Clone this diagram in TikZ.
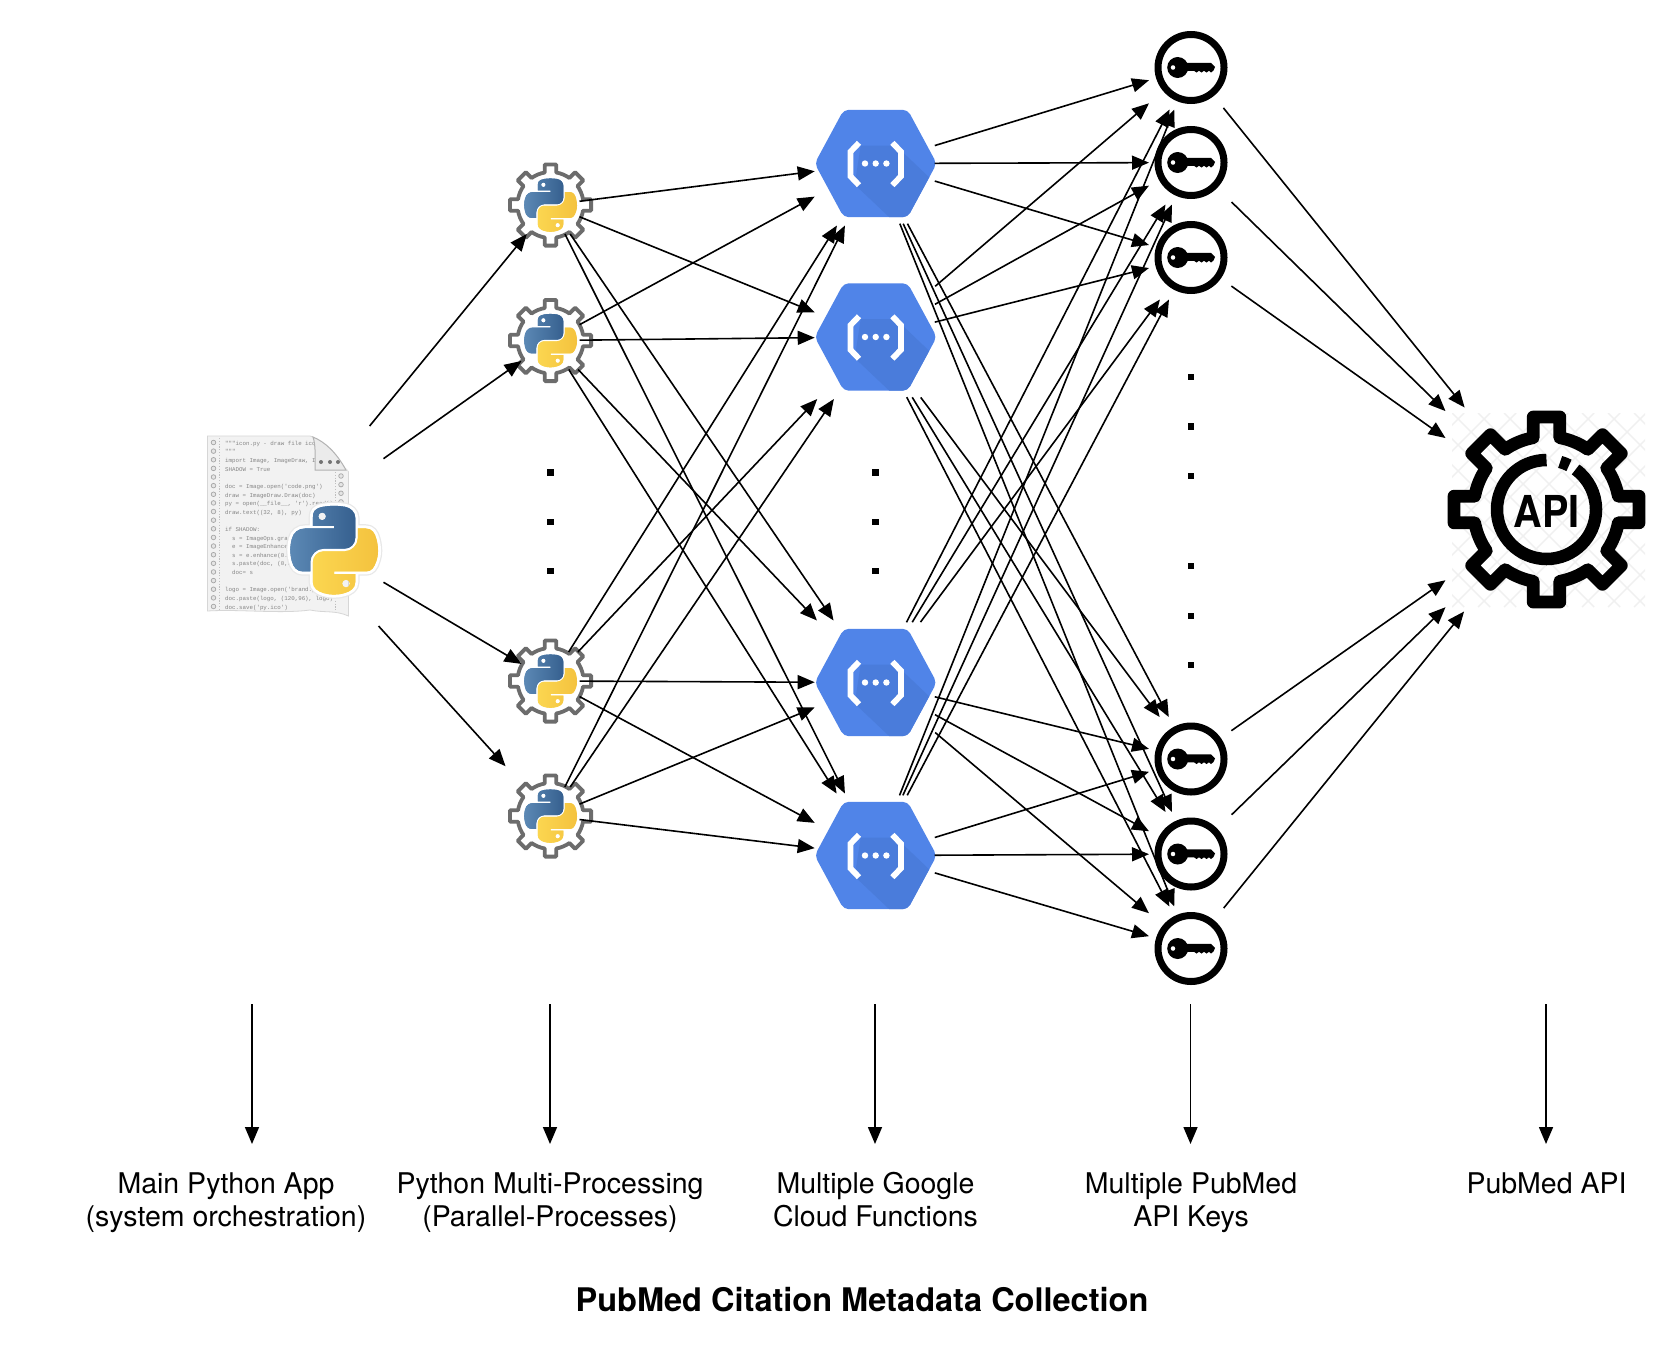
\documentclass[tikz,border=0pt]{standalone}
\usepackage{fontspec}
\usepackage{graphicx}
\setmainfont{TeX Gyre Heros}
\setmonofont{Liberation Mono}
\usetikzlibrary{arrows.meta}
\definecolor{pyblue}{HTML}{3F74A8}
\definecolor{pybluedk}{HTML}{36608F}
\definecolor{pyyellow}{HTML}{FBD650}
\definecolor{pyyellowdk}{HTML}{F4C23E}
\definecolor{gcp}{HTML}{5084E8}
\definecolor{gcpdk}{HTML}{4A7CDB}
\definecolor{geargray}{HTML}{6C6C6C}
\tikzset{
  arr/.style={line width=1.6pt,-{Triangle[length=17pt,width=14pt]}},
  bound/.style={rectangle,inner sep=0pt,outer sep=0pt,minimum width=#1},
  procbox/.style={bound=58pt,minimum height=58pt},
  funcbox/.style={bound=122pt,minimum height=124pt},
  keybox/.style={bound=84pt,minimum height=84pt},
  lbl/.style={font=\fontsize{28.5}{33}\selectfont,align=center,anchor=center,inner sep=0pt},
}
% gear outline: r-out, r-in, half-angle out, half-angle in, draw options
\newcommand\geardraw[5]{%
  \draw[#5] (-#4:#2) \foreach \a in {0,45,...,315}{
    -- (\a-#4:#2) -- (\a-#3:#1) -- (\a+#3:#1) -- (\a+#4:#2)
    arc[start angle=\a+#4,end angle=\a+45-#4,radius=#2]} -- cycle;}
% python logo: svg outline, centred
\newcommand\pyblueoutline{(54.92,0) .. controls (50.34,.02) and (45.96,.41) .. (42.11,1.09) .. controls (30.76,3.10) and (28.70,7.29) .. (28.70,15.03) -- (28.70,25.25) -- (55.51,25.25) -- (55.51,28.66) -- (18.64,28.66) .. controls (10.85,28.66) and (4.02,33.34) .. (1.89,42.25) .. controls (-.57,52.46) and (-.68,58.84) .. (1.89,69.50) .. controls (3.80,77.44) and (8.35,83.09) .. (16.14,83.09) -- (25.36,83.09) -- (25.36,70.84) .. controls (25.36,61.99) and (33.02,54.18) .. (42.11,54.18) -- (68.89,54.18) .. controls (76.34,54.18) and (82.30,48.04) .. (82.30,40.55) -- (82.30,15.02) .. controls (82.30,7.75) and (76.17,2.30) .. (68.89,1.08) .. controls (64.28,.33) and (59.50,-.02) .. (54.92,0) -- cycle}
\newcommand\pyyellowoutline{(85.64,28.66) -- (85.64,40.57) .. controls (85.64,49.80) and (77.81,57.57) .. (68.89,57.57) -- (42.11,57.57) .. controls (34.77,57.57) and (28.70,63.85) .. (28.70,71.20) -- (28.70,96.73) .. controls (28.70,104.00) and (35.02,108.27) .. (42.11,110.36) .. controls (50.60,112.86) and (58.74,113.31) .. (68.89,110.36) .. controls (75.64,108.41) and (82.30,104.47) .. (82.30,96.73) -- (82.30,86.50) -- (55.52,86.50) -- (55.52,83.09) -- (95.71,83.09) .. controls (103.50,83.09) and (106.41,77.65) .. (109.12,69.50) .. controls (111.92,61.10) and (111.86,53.02) .. (109.12,42.25) .. controls (107.19,34.49) and (103.52,28.66) .. (95.71,28.66) -- cycle}
\newcommand\pylogo[4]{% x, y, unit, halo width
  \begin{scope}[shift={(#1,#2)},x=#3,y=-#3,shift={(-55.4,-55.9)}]
    \ifdim#4>0pt
      \draw[line width=#4+2.5pt,color=black!9,line join=round] \pyblueoutline;
      \draw[line width=#4+2.5pt,color=black!9,line join=round] \pyyellowoutline;
      \draw[line width=#4,color=white,line join=round] \pyblueoutline;
      \draw[line width=#4,color=white,line join=round] \pyyellowoutline;
    \fi
    \fill[pyblue,even odd rule,left color=pyblue!85!white,right color=pybluedk] \pyblueoutline (45.45,13.34) arc[start angle=0,end angle=360,radius=5.03];
    \fill[pyyellow,even odd rule,left color=pyyellow,right color=pyyellowdk] \pyyellowoutline (75.61,98.41) arc[start angle=0,end angle=360,radius=5.03];
  \end{scope}}
\newcommand\procicon[2]{%
  \begin{scope}[shift={(#1,#2)}]
    \geardraw{41}{33}{8}{10}{draw=geargray,line width=3.8pt,line join=round,fill=white}
  \end{scope}
  \pylogo{#1}{#2}{0.475pt}{0pt}}
\newcommand\funcicon[2]{%
  \begin{scope}[shift={(#1,#2)}]
    \begin{scope}
      \clip[rounded corners=5pt] (-61,0) -- (-32,53.7) -- (32,53.7) -- (61,0) -- (32,-53.7) -- (-32,-53.7) -- cycle;
      \fill[gcp] (-62,-56) rectangle (62,56);
      \fill[gcpdk] (-15,18) -- (20,18) -- (62,-22) -- (62,-56) -- (16,-56) -- (-21,-21) -- cycle;
    \end{scope}
    \draw[white,line width=5.8pt] (-16.7,20.7) -- (-25.3,11.7) -- (-25.3,-12.7) -- (-16.7,-21.7);
    \draw[white,line width=5.8pt] (16.7,20.7) -- (25.3,11.7) -- (25.3,-12.7) -- (16.7,-21.7);
    \foreach \dx in {-10.7,0,10.7} \fill[white] (\dx,0) circle[radius=3.2];
  \end{scope}}
\newcommand\keyicon[2]{%
  \begin{scope}[shift={(#1,#2)}]
    \draw[black,line width=7pt] (0,0) circle[radius=33];
    \fill[black,even odd rule] (-13.3,0) circle[radius=10.5] (-18,0) circle[radius=2.4];
    \fill[black] (-7,4.7) -- (20,4.7) -- (24,0.5) -- (22.5,-3) -- (20,-5) -- (18,-3.3) -- (15.5,-5) -- (13,-3.3) -- (10.5,-5) -- (8,-3.3) -- (5.5,-5) -- (3,-3.3) -- (-7,-3.3) -- cycle;
  \end{scope}}
\newcommand\dl[2]{\node[anchor=base west,inner sep=0pt,text=black!48,font=\ttfamily\fontsize{5.8}{6}\selectfont] (dl#1) at (225,-#1) {#2};}
\begin{document}
\begin{tikzpicture}[x=1pt,y=1pt]
\useasboundingbox (0,-1346) rectangle (1680,0);
\fill[white] (0,-1346) rectangle (1680,0);

% document icon
\fill[black!5,draw=black!16,line width=.8pt] (207.5,-436) -- (310,-436) .. controls (325,-440) and (345,-460) .. (348.5,-472) -- (348.5,-616) .. controls (335,-610) and (325,-613) .. (310,-610) .. controls (280,-614) and (240,-609) .. (207.5,-611) -- cycle;
\draw[black!25,dash pattern=on 1.2pt off 1.6pt,line width=.6pt] (219,-438) -- (219,-610);
\draw[black!25,dash pattern=on 1.2pt off 1.6pt,line width=.6pt] (335,-472) -- (335,-610);
\foreach \i in {0,...,19} \draw[black!35,fill=black!10,line width=.7pt] (213.5,-442.5-8.63*\i) circle[radius=2.3];
\foreach \i in {0,...,13} \draw[black!35,fill=black!10,line width=.7pt] (341,-476-8.63*\i) circle[radius=2.3];
\dl{445}{"""icon.py - draw file icon}
\dl{453}{"""}
\dl{462}{import Image, ImageDraw, ImageOps}
\dl{471}{SHADOW = True}
\dl{488}{doc = Image.open('code.png')}
\dl{497}{draw = ImageDraw.Draw(doc)}
\dl{505}{py = open(\_\_file\_\_, 'r').read()}
\dl{514}{draw.text((32, 8), py)}
\dl{531}{if SHADOW:}
\dl{540}{\ \ s = ImageOps.grayscale(doc)}
\dl{548}{\ \ e = ImageEnhance.Contrast(s)}
\dl{557}{\ \ s = e.enhance(0.5)}
\dl{565}{\ \ s.paste(doc, (0,0), s)}
\dl{574}{\ \ doc= s}
\dl{591}{logo = Image.open('brand.png')}
\dl{600}{doc.paste(logo, (120,96), logo)}
\dl{609}{doc.save('py.ico')}
\fill[white] (312,-436) -- (349,-436) -- (349,-471) -- cycle;
\fill[black!8,draw=black!30,line width=1pt] (313,-437) .. controls (316,-445) and (315,-460) .. (315,-470) -- (346,-470) .. controls (336,-452) and (325,-442) .. (313,-437) -- cycle;
\foreach \i in {321,330,338} \fill[black!55] (\i,-462) circle[radius=2];
\pylogo{334}{-550}{0.79pt}{6pt}

% api icon
\begin{scope}
  \clip (1452,-607) rectangle (1645,-413);
  \foreach \i in {-8,...,8} {
    \draw[black!6,line width=1.4pt] (1452+26*\i,-607) -- (1452+26*\i+194,-413);
    \draw[black!6,line width=1.4pt] (1452+26*\i,-413) -- (1452+26*\i+194,-607);
  }
\end{scope}
\begin{scope}[shift={(1546.5,-509.5)}]
  \geardraw{93.5}{73}{8.2}{10.5}{draw=black,line width=12.7pt,line join=round}
  \draw[black,line width=12.5pt] (90:49.5) arc[start angle=90,end angle=414,radius=49.5];
  \draw[black,line width=12.5pt] (74:49.5) arc[start angle=74,end angle=63,radius=49.5];
  \node[inner sep=0pt,font=\fontsize{44}{44}\selectfont\bfseries] (apitxt) at (0,-2) {\scalebox{0.9}[1]{API}};
\end{scope}

% process icons
\procicon{550.5}{-205}
\procicon{550.5}{-340.5}
\procicon{550.5}{-681}
\procicon{550.5}{-816}
% function icons
\funcicon{875.7}{-163.5}
\funcicon{875.7}{-337}
\funcicon{875.7}{-682.5}
\funcicon{875.7}{-855.5}
% key icons
\keyicon{1191}{-67.5}
\keyicon{1191}{-162.5}
\keyicon{1191}{-257.5}
\keyicon{1191}{-759}
\keyicon{1191}{-854}
\keyicon{1191}{-948.5}

% dots
\foreach \x in {550.5,875.7} \foreach \y in {472.5,522,571} \fill (\x-3.3,-\y-3.3) rectangle ++(6.6,6.6);
\foreach \y in {377,426.5,476,566,616,665} \fill (1191-3.3,-\y-3.3) rectangle ++(6.6,6.6);

% bounding nodes used by the connectors
\node[bound=191pt,minimum height=200pt] (doc) at (288,-526) {};
\node[procbox] (p1) at (550.5,-205) {};
\node[procbox] (p2) at (550.5,-340.5) {};
\node[procbox] (p3) at (550.5,-681) {};
\node[procbox] (p4) at (550.5,-816) {};
\node[funcbox] (f1) at (875.7,-163.5) {};
\node[funcbox] (f2) at (875.7,-337) {};
\node[funcbox] (f3) at (875.7,-682.5) {};
\node[funcbox] (f4) at (875.7,-855.5) {};
\node[keybox] (k1) at (1191,-67.5) {};
\node[keybox] (k2) at (1191,-162.5) {};
\node[keybox] (k3) at (1191,-257.5) {};
\node[keybox] (k4) at (1191,-759) {};
\node[keybox] (k5) at (1191,-854) {};
\node[keybox] (k6) at (1191,-948.5) {};
\node[bound=202pt,minimum height=204pt] (api) at (1546.5,-509.5) {};

\foreach \s/\t in {doc/p1,doc/p2,doc/p3} \draw[arr] (\s) -- (\t);
\draw[arr,shorten >=28pt] (doc) -- (p4);
\foreach \s in {p1,p2,p3,p4} \foreach \t in {f1,f2,f3,f4} \draw[arr] (\s) -- (\t);
\foreach \s in {f1,f2,f3,f4} \foreach \t in {k1,k2,k3,k4,k5,k6} \draw[arr,shorten <=-2pt] (\s) -- (\t);
\foreach \s in {k1,k2,k3,k4,k5,k6} \draw[arr,shorten <=-2pt] (\s) -- (api);

% labels
\node[lbl] (l1) at (226,-1203.8) {\strut Main Python App\\\strut (system orchestration)};
\node[lbl] (l2) at (550,-1203.8) {\strut Python Multi-Processing\\\strut (Parallel-Processes)};
\node[lbl] (l3) at (875.5,-1203.8) {\strut Multiple Google\\\strut Cloud Functions};
\node[lbl] (l4) at (1191,-1203.8) {\strut Multiple PubMed\\\strut API Keys};
\node[lbl] (l5) at (1546.5,-1187.3) {\strut PubMed API};
\node[lbl,font=\fontsize{32.5}{36}\selectfont\bfseries] (title) at (862,-1304.3) {\strut PubMed Citation Metadata Collection};

% column arrows
\foreach \n/\x in {a/252,b/550,c/875,d/1190.5,e/1546} {
  \coordinate (\n s) at (\x,-1004);
  \coordinate (\n e) at (\x,-1144);
  \draw[arr] (\n s) -- (\n e);
}
\end{tikzpicture}
\end{document}
